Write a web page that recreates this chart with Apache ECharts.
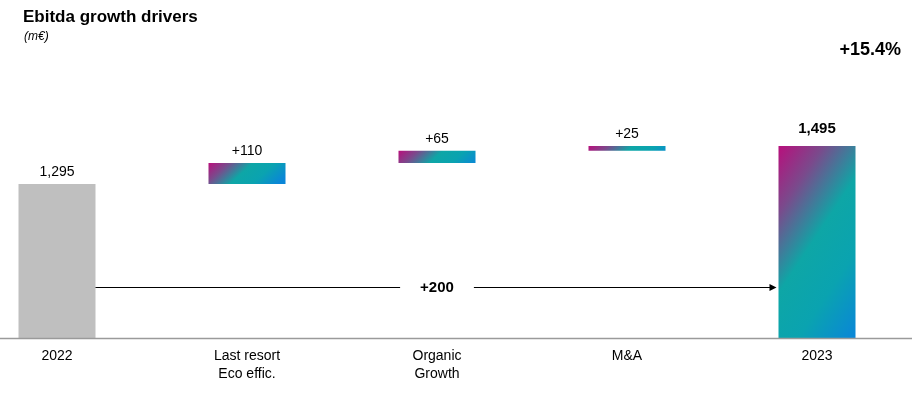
<!DOCTYPE html>
<html>
<head>
<meta charset="utf-8">
<script src="https://cdn.jsdelivr.net/npm/echarts@6/dist/echarts.min.js"></script>
<style>
html,body{margin:0;padding:0;background:#fff;}
#chart{width:915px;height:395px;}
</style>
</head>
<body>
<div id="chart"></div>
<script>
// ---- data ----
var categories = ['2022', 'Last resort\nEco effic.', 'Organic\nGrowth', 'M&A', '2023'];
var startValue = 1295;
var deltas = [110, 65, 25];
var endValue = 1495;
var growthLabel = '+15.4%';

// ---- derived ----
var mainValues = [startValue].concat(deltas).concat([endValue]);
var baseValues = [0];
var running = startValue;
deltas.forEach(function (d) { baseValues.push(running); running += d; });
baseValues.push(0);
var totalChange = endValue - startValue;

var FONT = '"Liberation Sans", Arial, sans-serif';
var BAR_W = 77;
var ARROW_LEVEL = 753;
var Y_MIN = 485;

function grad(x2, y2) {
  return new echarts.graphic.LinearGradient(0, 0, x2, y2, [
    { offset: 0, color: '#b80f7c' },
    { offset: 0.22, color: '#7a4a8c' },
    { offset: 0.48, color: '#0ea6a6' },
    { offset: 0.72, color: '#0aa3b0' },
    { offset: 1, color: '#0a86d8' }
  ]);
}
function fmt(v) { return v.toString().replace(/\B(?=(\d{3})+(?!\d))/g, ','); }

var mainData = mainValues.map(function (v, i) {
  var item = { value: v };
  if (i === 0) {
    item.itemStyle = { color: '#bfbfbf' };
  } else if (i === mainValues.length - 1) {
    item.itemStyle = { color: grad(1.84, 0.49) };
    item.label = { fontWeight: 'bold', fontSize: 15, distance: 10 };
  } else {
    // keep the same on-screen gradient angle for bars of different heights
    item.itemStyle = { color: grad(0.55, 242 / v) };
  }
  return item;
});

var chart = echarts.init(document.getElementById('chart'), null, { renderer: 'canvas' });
chart.setOption({
  animation: false,
  backgroundColor: '#ffffff',
  title: [
    { text: 'Ebitda growth drivers', left: 23, top: 9, padding: 0,
      textStyle: { fontFamily: FONT, fontSize: 17, fontWeight: 'bold', color: '#000' } },
    { text: '(m€)', left: 24, top: 31, padding: 0,
      textStyle: { fontFamily: FONT, fontSize: 12, fontStyle: 'italic', fontWeight: 'normal', color: '#000' } },
    { text: growthLabel, right: 14, top: 41, padding: 0,
      textStyle: { fontFamily: FONT, fontSize: 18, fontWeight: 'bold', color: '#000' } }
  ],
  grid: { left: 57, right: 98, top: 30, bottom: 57, containLabel: false },
  xAxis: {
    type: 'category',
    data: categories,
    boundaryGap: false,
    axisLine: { show: false },
    axisTick: { show: false },
    axisLabel: { fontFamily: FONT, fontSize: 14, color: '#000', margin: 9, lineHeight: 18, interval: 0 }
  },
  yAxis: {
    type: 'value', min: Y_MIN, max: 2105, show: false, splitLine: { show: false }
  },
  series: [
    {
      type: 'bar', stack: 'w', barWidth: BAR_W, silent: true,
      itemStyle: { color: 'rgba(0,0,0,0)' },
      data: baseValues
    },
    {
      type: 'bar', stack: 'w', barWidth: BAR_W,
      data: mainData,
      label: {
        show: true, position: 'top', distance: 5,
        fontFamily: FONT, fontSize: 14, color: '#000',
        formatter: function (p) {
          if (p.dataIndex === 0 || p.dataIndex === mainValues.length - 1) return fmt(p.value);
          return '+' + p.value;
        }
      }
    },
    {
      type: 'custom',
      z: 3,
      clip: false,
      data: [[0, mainValues.length - 1, ARROW_LEVEL]],
      renderItem: function (params, api) {
        var p0 = api.coord([api.value(0), api.value(2)]);
        var p1 = api.coord([api.value(1), api.value(2)]);
        var base = api.coord([0, Y_MIN]);
        var xs = p0[0] + BAR_W / 2;
        var xe = p1[0] - BAR_W / 2 - 2;
        var y = Math.round(p0[1]) + 0.5;
        var yb = Math.round(base[1]) + 0.5;
        var mid = (p0[0] + p1[0]) / 2;
        return {
          type: 'group',
          children: [
            { type: 'line', shape: { x1: 0, y1: yb, x2: 912, y2: yb },
              style: { stroke: '#9a9a9a', lineWidth: 1.5 } },
            { type: 'line', shape: { x1: xs, y1: y, x2: xe - 6, y2: y },
              style: { stroke: '#000', lineWidth: 1 } },
            { type: 'polygon', shape: { points: [[xe - 7, y - 3.5], [xe, y], [xe - 7, y + 3.5]] },
              style: { fill: '#000' } },
            { type: 'text', x: mid, y: y,
              style: { text: '+' + totalChange, fontFamily: FONT, fontSize: 15, fontWeight: 'bold',
                fill: '#000', align: 'center', verticalAlign: 'middle',
                backgroundColor: '#fff', padding: [3, 20] } }
          ]
        };
      }
    }
  ]
});
</script>
</body>
</html>
